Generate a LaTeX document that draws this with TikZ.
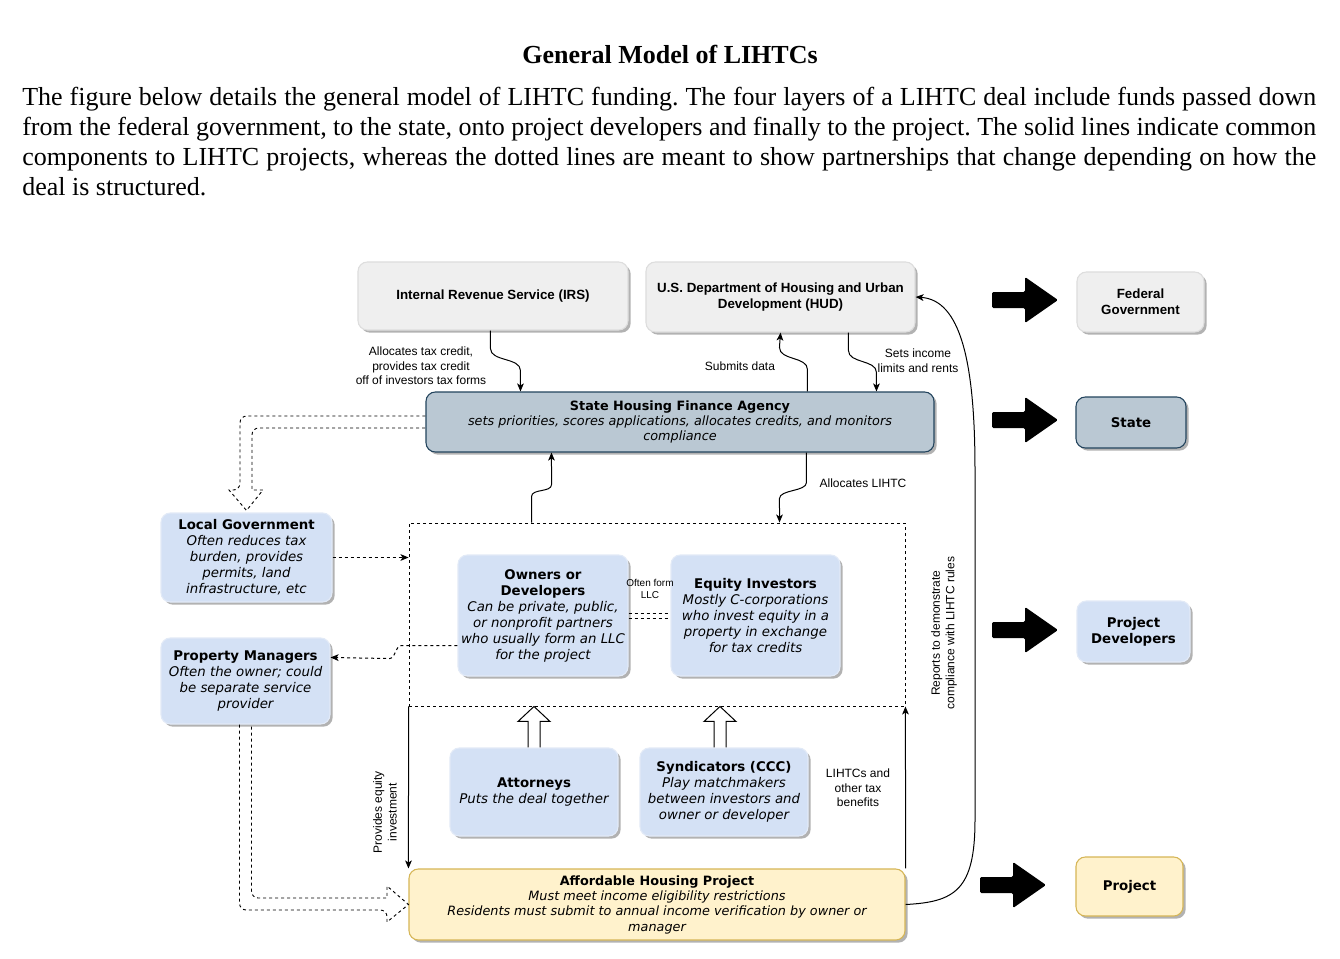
\documentclass[tikz,border=0pt]{standalone}
\usepackage{fontspec}
\setmainfont{Liberation Serif}
\newfontfamily\ar{Liberation Sans}
\newfontfamily\vd{DejaVu Sans}
\usetikzlibrary{calc,shadows,arrows.meta}
\definecolor{gfill}{HTML}{EFEFEF}
\definecolor{gline}{HTML}{DDDDDD}
\definecolor{sfill}{HTML}{BAC8D3}
\definecolor{sline}{HTML}{23445D}
\definecolor{bfill}{HTML}{D4E1F5}
\definecolor{bline}{HTML}{E2EAF7}
\definecolor{yfill}{HTML}{FFF2CC}
\definecolor{yline}{HTML}{D6B656}
\frenchspacing
\begin{document}
\begin{tikzpicture}[x=0.75pt,y=-0.75pt,
  sz/.style 2 args={minimum width={#1*0.75pt}, minimum height={#2*0.75pt}},
  box/.style={rounded corners=7pt, align=center, inner sep=1pt, line width=0.8pt,
    drop shadow={shadow xshift=2pt, shadow yshift=-2pt, opacity=0.3, fill=black}},
  gbox/.style={box, fill=gfill, draw=gline, font=\ar\bfseries\fontsize{10}{12}\selectfont},
  sbox/.style={box, fill=sfill, draw=sline, font=\vd\fontsize{9.6}{11.5}\selectfont},
  bbox/.style={box, fill=bfill, draw=bline, font=\vd\fontsize{10}{12}\selectfont},
  ybox/.style={box, fill=yfill, draw=yline, font=\vd\fontsize{9.6}{11.5}\selectfont},
  side/.style={font=\vd\bfseries\fontsize{10}{12}\selectfont},
  dotbox/.style={draw, line width=0.7pt, dash pattern=on 2.25pt off 2.25pt, inner sep=0pt},
  lbl/.style={font=\ar\fontsize{9}{11}\selectfont, align=center, inner sep=1pt},
  conn/.style={draw, line width=0.75pt, -{Stealth[length=6pt,width=5pt,inset=1.5pt]}},
  dconn/.style={draw, line width=0.75pt, dash pattern=on 2.25pt off 2.25pt, -{Stealth[length=6pt,width=5pt,inset=1.5pt]}},
  dsh/.style={draw, line width=0.7pt, dash pattern=on 2.25pt off 2.25pt},
  hollow/.style={draw, fill=white, line width=0.75pt},
  blk/.style={fill=black, rounded corners=1pt}
]
\useasboundingbox (0,0) rectangle (1340,958);
\fill[white] (0,0) rectangle (1340,958);

% title and text
\node[font=\bfseries\fontsize{19.5}{22}\selectfont] (title) at (670,54) {General Model of LIHTCs};
\node[anchor=north west, text width=970.5pt, align=justify, inner sep=0pt,
  font=\fontsize{19.5}{22.5}\selectfont] (para) at (22,87)
 {The figure below details the general model of LIHTC funding. The four layers of a LIHTC deal include funds passed down\linebreak
 from the federal government, to the state, onto project developers and finally to the project. The solid lines indicate common\linebreak
 components to LIHTC projects, whereas the dotted lines are meant to show partnerships that change depending on how the\linebreak
 deal is structured.};

% boxes
\node[gbox, sz={270}{68}] (irs) at (493,296) {Internal Revenue Service (IRS)};
\node[gbox, sz={269}{70}] (hud) at (780.5,297) {U.S. Department of Housing and Urban\\Development (HUD)};
\node[sbox, sz={508}{60}] (shfa) at (680,422) {\textbf{State Housing Finance Agency}\\\itshape sets priorities, scores applications, allocates credits, and monitors\\\itshape compliance};
\node[bbox, sz={171}{89}] (lg) at (246.5,557.5) {\textbf{Local Government}\\\itshape Often reduces tax\\\itshape burden, provides\\\itshape permits, land\\\itshape infrastructure, etc};
\node[bbox, sz={169}{86}] (pm) at (245.5,681) {\textbf{Property Managers}\\\itshape Often the owner; could\\\itshape be separate service\\\itshape provider};
\node[dotbox, sz={496}{183}] (grp) at (657,614.5) {};
\node[bbox, sz={170}{121}] (own) at (543,615.5) {\textbf{Owners or}\\\textbf{Developers}\\\itshape Can be private, public,\\\itshape or nonprofit partners\\\itshape who usually form an LLC\\\itshape for the project};
\node[bbox, sz={169}{121}] (eq) at (755.5,615.5) {\textbf{Equity Investors}\\\itshape Mostly C-corporations\\\itshape who invest equity in a\\\itshape property in exchange\\\itshape for tax credits};
\node[bbox, sz={168}{88}] (att) at (534,792) {\textbf{Attorneys}\\\itshape Puts the deal together};
\node[bbox, sz={168}{88}] (syn) at (724,792) {\textbf{Syndicators (CCC)}\\\itshape Play matchmakers\\\itshape between investors and\\\itshape owner or developer};
\node[ybox, sz={496}{71}] (ahp) at (657,904.5) {\textbf{Affordable Housing Project}\\\itshape Must meet income eligibility restrictions\\\itshape Residents must submit to annual income verification by owner or\\\itshape manager};

% right column
\node[gbox, sz={127}{60}] (fed) at (1140.5,302) {Federal\\Government};
\node[sbox, side, sz={110}{51}] (state) at (1131,422.5) {State};
\node[bbox, side, sz={113}{61}] (pd) at (1133.5,631.5) {Project\\Developers};
\node[ybox, side, sz={107}{59}] (proj) at (1129.5,886.5) {Project};

\foreach \yy/\xx in {300/992, 420/992, 630/992, 885/980}{
  \path[blk] (\xx,\yy-8) -- (\xx+33,\yy-8) -- (\xx+33,\yy-23) -- (\xx+66,\yy) -- (\xx+33,\yy+23) -- (\xx+33,\yy+8) -- (\xx,\yy+8) -- cycle;
}

% labels
\node[lbl] (l1) at (421,366) {Allocates tax credit,\\provides tax credit\\off of investors tax forms};
\node[lbl] (l2) at (740,366) {Submits data};
\node[lbl] (l3) at (918,361) {Sets income\\limits and rents};
\node[lbl] (l4) at (863,483) {Allocates LIHTC};
\node[lbl, font=\ar\fontsize{7.5}{8.5}\selectfont] (l5) at (650,589) {Often form\\LLC};
\node[lbl] (l6) at (858,788) {LIHTCs and\\other tax\\benefits};
\node[lbl, rotate=90] (l7) at (385,812) {Provides equity\\investment};
\node[lbl, rotate=90] (l8) at (944,633) {Reports to demonstrate\\compliance with LIHTC rules};

% solid connectors
\draw[conn] ($(irs.south west)+(133,0)$) -- ++(0,18) .. controls +(0,13) and +(0,-13) .. ++(30,22) -- ($(shfa.north west)+(95,0)$);
\draw[conn] ($(shfa.north west)+(382,0)$) -- ++(0,-22) .. controls +(0,-13) and +(0,13) .. ++(-28,-22) -- (hud.south);
\draw[conn] ($(hud.south west)+(203,0)$) -- ++(0,18) .. controls +(0,13) and +(0,-13) .. ++(28,22) -- ($(shfa.north west)+(451,0)$);
\draw[conn] ($(grp.north west)+(123,0)$) -- ++(0,-26) .. controls +(0,-8) and +(0,8) .. ++(20,-12) -- ($(shfa.south west)+(126,0)$);
\draw[conn] ($(shfa.south west)+(381,0)$) -- ++(0,30) .. controls +(0,9) and +(0,-9) .. ++(-27,16) -- ($(grp.north west)+(371,0)$);
\draw[conn] (grp.south west) -- (ahp.north west);
\draw[conn] (ahp.north east) -- (grp.south east);
\draw[conn] (ahp.east) .. controls (955,902) and (975,890) .. (975,820) -- (975,470)
  .. controls (975,360) and (960,300) .. (hud.east);

% dashed connectors
\draw[dconn] ($(own.south west)+(0,-31)$) -- ++(-56,0) .. controls +(-6,0) and +(6,0) .. ++(-12,13) -- ($(pm.north east)+(0,20)$);
\draw[dconn] (lg.east) -- (lg.east -| grp.west);
\draw[dsh] ($(own.east)+(0,-2.5)$) -- ($(own.east -| eq.west)+(0,-2.5)$);
\draw[dsh] ($(own.east)+(0,2.5)$) -- ($(own.east -| eq.west)+(0,2.5)$);

% double dashed hollow arrows
\draw[dsh] ($(shfa.west)+(0,-6)$) [rounded corners=5pt] -- (240,416) -- (240,490) [sharp corners] -- (229,490) -- ($(lg.north)+(0,-2)$) -- (263,490) -- (252,490) [rounded corners=5pt] -- (252,428) -- ($(shfa.west)+(0,6)$);
\draw[dsh] ($(pm.south)+(-6,0)$) [rounded corners=5pt] -- (239.5,910) -- (387,910) [sharp corners] -- (387,922) -- (ahp.west) -- (387,886) -- (387,898) [rounded corners=5pt] -- (251.5,898) -- ($(pm.south)+(6,0)$);

% hollow block arrows
\draw[hollow] ($(att.north)+(-6,0)$) -- ++(0,-26) -- ++(-10,0) -- ($(att.north |- grp.south)$) -- ($(att.north)+(16,-26)$) -- ++(-10,0) -- ($(att.north)+(6,0)$);
\draw[hollow] ($(syn.north)+(-10,0)$) -- ++(0,-26) -- ++(-10,0) -- ($(syn.north |- grp.south)+(-4,0)$) -- ($(syn.north)+(12,-26)$) -- ++(-10,0) -- ($(syn.north)+(2,0)$);
\end{tikzpicture}
\end{document}
